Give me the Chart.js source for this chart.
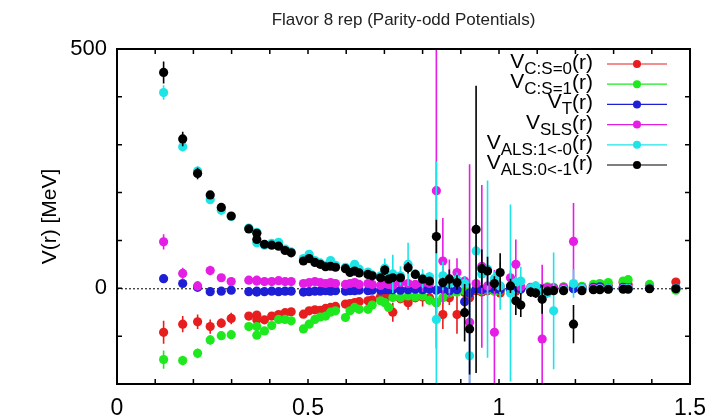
<!DOCTYPE html>
<html>
<head>
<meta charset="utf-8">
<script src="https://cdn.jsdelivr.net/npm/chart.js@4.4.0/dist/chart.umd.min.js"></script>
<style>
  body { margin: 0; background: #fff; }
</style>
</head>
<body>
<canvas id="potChart" width="717" height="420"></canvas>
<script>
// r [fm] positions (lattice distances, some appear twice)
const r = [0.122, 0.172, 0.211, 0.244, 0.273, 0.299, 0.345, 0.366, 0.366, 0.386,
  0.405, 0.423, 0.44, 0.456, 0.488, 0.503, 0.518, 0.532, 0.546, 0.559,
  0.572, 0.598, 0.61, 0.622, 0.634, 0.657, 0.668, 0.69, 0.701, 0.711,
  0.722, 0.742, 0.762, 0.781, 0.8, 0.818, 0.836, 0.853, 0.87, 0.89,
  0.91, 0.923, 0.94, 0.955, 0.97, 0.988, 1.003, 1.03, 1.044, 1.057,
  1.083, 1.096, 1.113, 1.127, 1.143, 1.169, 1.195, 1.217, 1.247, 1.264,
  1.286, 1.325, 1.338, 1.394, 1.463];

// V_C:S=0
const vcS0 = [-92, -75, -70, -80, -73, -63, -58, -56, -66, -66,
  -58, -55, -51, -49, -54, -47, -45, -46, -42, -40,
  -38, -33, -32, -30, -28, -26, -24, -17, -20, -16,
  -50, -22, -30, -20, -18, -20, -30, -55, -20, -55,
  -9, -20, -5, -8, -5, -3, -10, -4, -6, -2,
  -3, -2, -1, 0, 0, 2, 0, 3, 5, 8,
  6, 12, 8, 6, 13];
const ecS0 = [24, 17, 15, 15, 10, 12, 8, 8, 6, 6,
  6, 5, 5, 5, 5, 5, 5, 5, 5, 5,
  5, 5, 5, 5, 5, 5, 5, 5, 6, 6,
  20, 8, 15, 8, 20, 10, 25, 30, 15, 40,
  10, 15, 8, 8, 6, 6, 8, 6, 6, 5,
  5, 5, 5, 5, 5, 5, 5, 5, 5, 5,
  5, 5, 5, 5, 6];

// V_C:S=1
const vcS1 = [-149, -151, -136, -108, -99, -97, -80, -80, -98, -89,
  -78, -65, -65, -68, -85, -75, -65, -60, -58, -50,
  -47, -61, -47, -40, -44, -44, -35, -26, -30, -40,
  -19, -20, -16, -18, -16, -25, -30, -20, -10, -8,
  -5, -8, -3, -5, -2, -6, -4, -2, 0, 2,
  -3, -4, 0, 3, 2, 3, 5, 4, 8, 10,
  12, 15, 18, 8, -4];
const ecS1 = [19, 10, 10, 10, 7, 7, 7, 7, 7, 6,
  6, 6, 5, 5, 6, 5, 5, 5, 5, 5,
  5, 6, 5, 5, 5, 6, 5, 5, 6, 6,
  10, 8, 8, 8, 8, 10, 12, 10, 8, 8,
  6, 8, 6, 6, 6, 6, 6, 6, 6, 5,
  5, 5, 5, 5, 5, 5, 5, 5, 5, 5,
  5, 6, 6, 5, 6];

// V_T
const vT = [20, 10, 2, -7, -6, -4, -7, -6, -8, -7,
  -6, -7, -6, -6, -8, -7, -6, -6, -5, -6,
  -5, -6, -5, -5, -4, -5, -4, -4, -3, -3,
  -3, -4, -3, -2, -3, -2, -4, -2, -5, -3,
  -28, -10, -2, -3, 0, -2, -3, -2, 0, -1,
  -2, 0, -1, 0, 0, -2, -1, 0, 2, 3,
  0, 2, 1, 0, 0];
const eT = [5, 4, 3, 3, 3, 3, 3, 3, 3, 3,
  3, 3, 3, 3, 3, 3, 3, 3, 3, 3,
  3, 3, 3, 3, 3, 3, 3, 3, 3, 3,
  3, 3, 3, 3, 3, 3, 4, 3, 5, 4,
  15, 6, 3, 3, 3, 3, 3, 3, 3, 3,
  3, 3, 3, 3, 3, 3, 3, 3, 3, 3,
  3, 3, 3, 3, 3];

// V_SLS
const vSLS = [97, 31, 5, 37, 22, 14, 17, 15, 17, 14,
  14, 16, 14, 14, 10, 12, 14, 12, 10, 12,
  10, 8, 10, 12, 8, 10, 8, 6, 10, 8,
  6, 12, 10, 8, 12, 10, 204, 57, 20, 33,
  15, -71, 10, 46, 5, -92, 4, 22, 50, 3,
  2, 0, -106, 1, 0, 2, 98, 1, 0, 0,
  -2, 0, 0, 0, 0];
const eSLS = [16, 12, 10, 10, 8, 6, 6, 5, 5, 5,
  4, 4, 4, 4, 4, 4, 4, 4, 4, 4,
  4, 4, 4, 4, 4, 4, 4, 4, 4, 4,
  4, 4, 4, 4, 20, 8, 330, 90, 40, 30,
  10, 330, 15, 170, 20, 130, 15, 15, 52, 10,
  8, 8, 155, 8, 10, 6, 80, 6, 5, 5,
  5, 5, 5, 5, 5];

// V_ALS:1<-0
const vALS10 = [409, 296, 245, 185, 163, 150, 126, 117, 95, 90,
  94, 96, 82, 76, 62, 71, 58, 53, 48, 58,
  48, 44, 38, 50, 40, 34, 28, 26, 42, 24,
  30, 26, 50, 30, 20, 24, -65, 26, 10, 18,
  10, -141, 78, 30, 40, 20, 5, -10, 12, 15,
  0, 5, -8, -10, -47, -3, 10, 0, -2, -1,
  0, -1, 0, 0, 0];
const eALS10 = [15, 10, 10, 8, 7, 6, 6, 6, 6, 5,
  5, 6, 5, 5, 5, 6, 5, 5, 5, 6,
  5, 6, 6, 8, 6, 6, 6, 6, 20, 6,
  40, 20, 45, 10, 20, 10, 330, 30, 20, 15,
  15, 150, 60, 20, 185, 15, 50, 185, 12, 30,
  10, 10, 10, 10, 122, 8, 30, 6, 5, 5,
  5, 5, 5, 5, 5];

// V_ALS:0<-1
const vALS01 = [451, 312, 240, 195, 169, 151, 124, 115, 102, 92,
  90, 88, 79, 74, 57, 62, 54, 50, 45, 46,
  44, 41, 33, 36, 32, 29, 26, 22, 38, 19,
  22, 22, 43, 29, 19, 15, 108, 12, 19, 12,
  -51, -85, 123, 41, 36, 10, 33, 5, -26, -35,
  -8, -10, -23, -6, -5, -5, -75, -5, -3, -3,
  -2, -2, -2, -1, -1];
const eALS01 = [23, 15, 12, 8, 7, 7, 6, 6, 6, 5,
  5, 5, 5, 5, 5, 6, 5, 5, 5, 6,
  5, 6, 6, 6, 6, 6, 6, 6, 10, 6,
  8, 8, 12, 8, 8, 8, 35, 10, 20, 15,
  60, 95, 300, 40, 30, 15, 40, 15, 30, 25,
  10, 10, 30, 8, 8, 8, 40, 6, 5, 5,
  5, 5, 5, 5, 5];

const seriesNames = ['C:S=0', 'C:S=1', 'T', 'SLS', 'ALS:1<-0', 'ALS:0<-1'];
const seriesColors = ['rgb(232,30,30)', 'rgb(30,232,30)', 'rgb(30,30,215)',
  'rgb(228,30,228)', 'rgb(30,228,232)', '#000000'];
const seriesValues = [vcS0, vcS1, vT, vSLS, vALS10, vALS01];
const seriesErrors = [ecS0, ecS1, eT, eSLS, eALS10, eALS01];

const xLabels = [0, 0.5, 1, 1.5];
const yLabels = [0, 500];

const FONT = '"Liberation Sans", Arial, sans-serif';

const errorBars = {
  id: 'errorBars',
  beforeDatasetsDraw(chart) {
    const { ctx, chartArea: a, scales: { y } } = chart;
    const y0 = y.getPixelForValue(0);
    ctx.save();
    ctx.strokeStyle = '#000';
    ctx.lineWidth = 1;
    ctx.setLineDash([2, 2]);
    ctx.beginPath();
    ctx.moveTo(a.left, y0 + 0.5);
    ctx.lineTo(a.right, y0 + 0.5);
    ctx.stroke();
    ctx.restore();
  },
  beforeDatasetDraw(chart, args) {
    const i = args.index;
    const { ctx, chartArea: a, scales: { x, y } } = chart;
    const vals = seriesValues[i], errs = seriesErrors[i];
    ctx.save();
    ctx.beginPath();
    ctx.rect(a.left, a.top, a.right - a.left, a.bottom - a.top);
    ctx.clip();
    ctx.strokeStyle = seriesColors[i];
    ctx.lineWidth = 1.6;
    ctx.beginPath();
    for (let j = 0; j < r.length; j++) {
      if (vals[j] == null) continue;
      const px = x.getPixelForValue(r[j]);
      ctx.moveTo(px, y.getPixelForValue(vals[j] - errs[j]));
      ctx.lineTo(px, y.getPixelForValue(vals[j] + errs[j]));
    }
    ctx.stroke();
    ctx.restore();
  },
  afterDatasetsDraw(chart) {
    const { ctx, chartArea: a, scales: { x, y } } = chart;
    ctx.save();
    // frame
    ctx.strokeStyle = '#000';
    ctx.lineWidth = 2;
    ctx.strokeRect(a.left, a.top, a.right - a.left, a.bottom - a.top);
    // inward ticks
    ctx.lineWidth = 1.5;
    ctx.beginPath();
    for (let k = 0; k <= 15; k++) {
      const px = x.getPixelForValue(k / 10);
      ctx.moveTo(px, a.bottom); ctx.lineTo(px, a.bottom - 5);
      ctx.moveTo(px, a.top); ctx.lineTo(px, a.top + 5);
    }
    for (let v = -200; v <= 500; v += 100) {
      const py = y.getPixelForValue(v);
      ctx.moveTo(a.left, py); ctx.lineTo(a.left + 5, py);
      ctx.moveTo(a.right, py); ctx.lineTo(a.right - 5, py);
    }
    ctx.stroke();

    // title
    ctx.fillStyle = '#222';
    ctx.font = '17px ' + FONT;
    ctx.textAlign = 'center';
    ctx.textBaseline = 'middle';
    ctx.fillText('Flavor 8 rep (Parity-odd Potentials)', (a.left + a.right) / 2, 20);

    // y axis title
    ctx.save();
    ctx.translate(50, (a.top + a.bottom) / 2);
    ctx.rotate(-Math.PI / 2);
    ctx.font = '21px ' + FONT;
    ctx.fillStyle = '#000';
    ctx.fillText('V(r) [MeV]', 0, 0);
    ctx.restore();

    // legend
    ctx.textAlign = 'left';
    ctx.textBaseline = 'alphabetic';
    ctx.fillStyle = '#000';
    const bigFont = '21px ' + FONT, subFont = '17px ' + FONT;
    for (let k = 0; k < seriesNames.length; k++) {
      const ry = 64 + k * 20.2;
      ctx.font = bigFont;
      const wR = ctx.measureText('(r)').width;
      const wV = ctx.measureText('V').width;
      ctx.font = subFont;
      const wS = ctx.measureText(seriesNames[k]).width;
      let tx = 593 - wR - wS - wV;
      ctx.font = bigFont;
      ctx.fillText('V', tx, ry + 4);
      ctx.font = subFont;
      ctx.fillText(seriesNames[k], tx + wV, ry + 10);
      ctx.font = bigFont;
      ctx.fillText('(r)', tx + wV + wS, ry + 5);

      ctx.strokeStyle = seriesColors[k];
      ctx.lineWidth = 1.2;
      ctx.beginPath();
      ctx.moveTo(607, ry); ctx.lineTo(667, ry);
      ctx.stroke();
      ctx.fillStyle = seriesColors[k];
      ctx.beginPath();
      ctx.arc(637, ry, 4, 0, Math.PI * 2);
      ctx.fill();
      ctx.fillStyle = '#000';
    }
    ctx.restore();
  }
};

// later series drawn on top (gnuplot order)
const datasets = seriesValues.map((vals, i) => ({
  label: seriesNames[i],
  data: r.map((rv, j) => ({ x: rv, y: vals[j] })),
  order: seriesValues.length - i,
  showLine: false,
  pointRadius: 4.6,
  pointHoverRadius: 4.6,
  pointBackgroundColor: seriesColors[i],
  pointBorderWidth: 0,
  borderColor: seriesColors[i]
}));

new Chart(document.getElementById('potChart').getContext('2d'), {
  type: 'scatter',
  data: { datasets },
  options: {
    responsive: false,
    animation: false,
    devicePixelRatio: 1,
    layout: { padding: { top: 49, right: 21, left: 0, bottom: 0 } },
    plugins: { legend: { display: false }, tooltip: { enabled: false }, title: { display: false } },
    scales: {
      x: {
        type: 'linear', min: 0, max: 1.5,
        grid: { display: false, drawTicks: false },
        border: { display: false },
        afterFit: (s) => { s.height = 36; },
        ticks: {
          stepSize: 0.5, padding: 11, color: '#000',
          font: { family: FONT, size: 23 },
          callback: (v) => xLabels.some(l => Math.abs(l - v) < 1e-6) ? String(v) : ''
        }
      },
      y: {
        type: 'linear', min: -200, max: 500,
        grid: { display: false, drawTicks: false },
        border: { display: false },
        afterFit: (s) => { s.width = 117; },
        ticks: {
          stepSize: 100, padding: 10, color: '#000', autoSkip: false,
          font: { family: FONT, size: 22 },
          callback: (v) => yLabels.includes(v) ? String(v) : ''
        }
      }
    }
  },
  plugins: [errorBars]
});
</script>
</body>
</html>
